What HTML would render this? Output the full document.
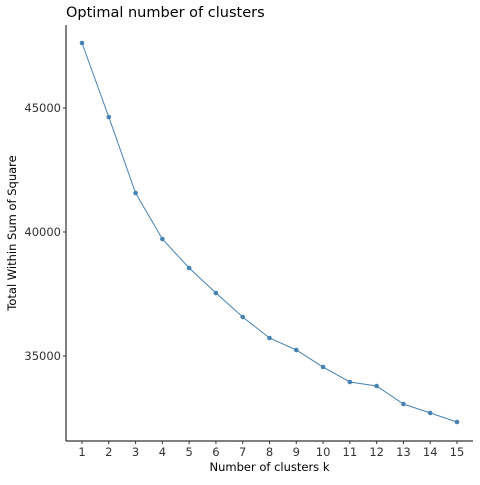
<!DOCTYPE html>
<html><head><meta charset="utf-8"><style>
body{margin:0;background:#fff;}
svg text{font-family:"DejaVu Sans","Liberation Sans",sans-serif;}
</style></head><body>
<svg id="chart" width="480" height="480">
<rect width="480" height="480" fill="#fff"/>
<text x="66" y="17" font-size="14.5" fill="#000">Optimal number of clusters</text>
<g id="axes"></g>
<g id="marks"></g>
<text x="269.5" y="471" font-size="11.5" text-anchor="middle">Number of clusters k</text>
<text transform="translate(16,233) rotate(-90)" font-size="11.5" text-anchor="middle">Total Within Sum of Square</text>
</svg>
<script>
const ks=[1,2,3,4,5,6,7,8,9,10,11,12,13,14,15];
const wss=[47621,44637,41573,39718,38548,37540,36573,35726,35242,34556,33952,33790,33065,32702,32339];
const yTicks=[35000,40000,45000];
const ns='http://www.w3.org/2000/svg';
const L=66,R=473,T=25,B=441;
function xs(k){return 82+(k-1)*(457-82)/14;}
function ys(v){return 108+(45000-v)*124/5000;}
const axes=document.getElementById('axes'),marks=document.getElementById('marks');
function mk(tag,at,parent){const e=document.createElementNS(ns,tag);for(const a in at)e.setAttribute(a,at[a]);parent.appendChild(e);return e;}
const xl=mk('line',{x1:L,x2:R,y1:B,y2:B,stroke:'#000','stroke-width':1},axes);


const yl=mk('line',{x1:L,x2:L,y1:T,y2:B,stroke:'#000','stroke-width':1},axes);


yTicks.forEach(v=>{
 const y=ys(v);
 mk('line',{x1:L-3,x2:L,y1:y,y2:y,stroke:'#333'},axes);
 const t=mk('text',{x:L-5,y:y+4,'font-size':11.5,'text-anchor':'end',fill:'#333'},axes);
 t.textContent=v;
 
 
});
ks.forEach(k=>{
 const x=xs(k);
 mk('line',{x1:x,x2:x,y1:B,y2:B+3,stroke:'#333'},axes);
 const t=mk('text',{x:x,y:B+15,'font-size':11.5,'text-anchor':'middle',fill:'#333'},axes);
 t.textContent=k;
 
 
});
const pl=mk('polyline',{points:ks.map((k,i)=>xs(k)+','+ys(wss[i])).join(' '),fill:'none',stroke:'#4682B4','stroke-width':1},marks);


ks.forEach((k,i)=>{
 const c=mk('circle',{cx:xs(k),cy:ys(wss[i]),r:2.3,fill:'#4682B4'},marks);
 
 
});
</script>
</body></html>
